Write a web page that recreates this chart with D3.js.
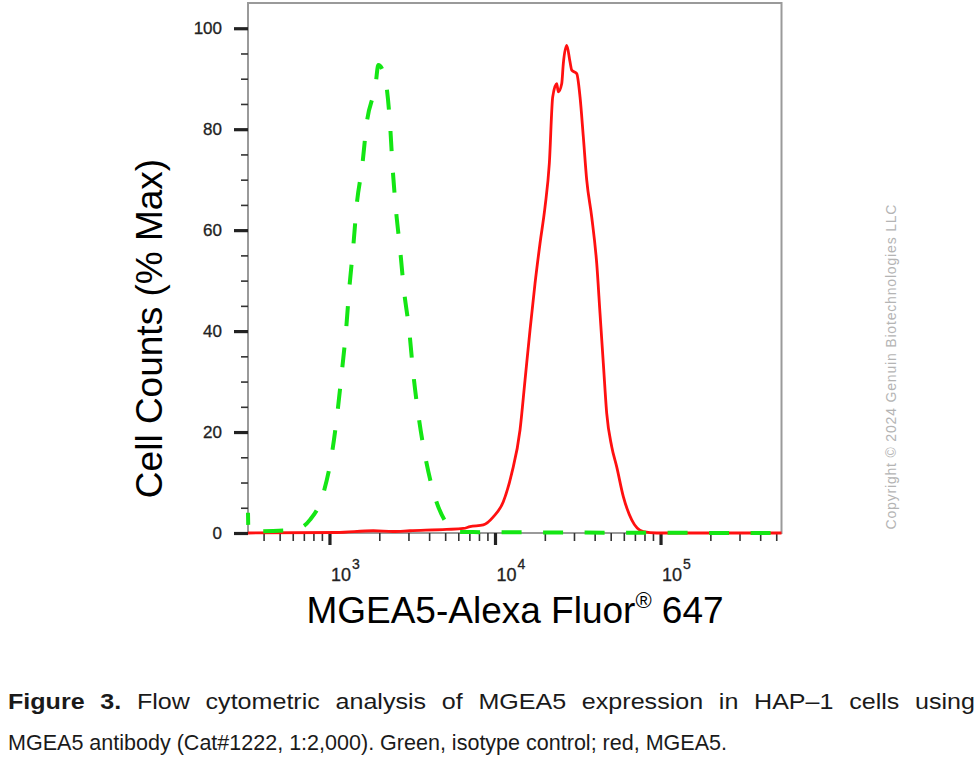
<!DOCTYPE html>
<html>
<head>
<meta charset="utf-8">
<script src="https://cdn.jsdelivr.net/npm/d3@7"></script>
<style>
  html, body { margin: 0; padding: 0; background: #fff; }
  svg { display: block; }
</style>
</head>
<body>
<div id="chart"></div>
<script>
// isotype control (green, dashed): fluorescence value, % max
const greenX = [322, 324, 457, 647, 762, 917, 1031, 1114, 1185, 1258, 1317, 1393, 1460, 1578, 1678, 1902, 1972,
                2135, 2321, 2409, 2512, 2667, 2819, 3035, 3209, 3441, 3776, 4239, 5107, 5870, 538000]
const greenY = [4, 0.3, 0.4, 0.9, 2.6, 7.8, 15.4, 23.5, 31.6, 40.0, 48.4, 56.8, 64.9, 72.8, 81.1, 89.0, 92.7,
                91.0, 81.1, 72.2, 64.6, 56.4, 48.1, 40.0, 31.6, 23.5, 15.4, 8.2, 1.9, 0.2, 0]

// MGEA5 (red, solid)
const redX = [322, 1105, 1840, 2420, 3065, 5107, 6434, 7060, 8500, 9766, 11225, 12616, 14163, 15185, 16275, 17445,
              18708, 20056, 21291, 22319, 23598, 24130, 25293, 25864, 27126, 28404, 29079, 31172, 32633, 34162,
              35822, 38397, 41165, 43095, 45125, 47305, 50722, 54367, 59602, 66988, 78742, 94842, 538000]
const redY = [0, 0.1, 0.45, 0.3, 0.45, 0.7, 0.9, 1.25, 1.6, 3.2, 6.2, 11.8, 20.4, 30.3, 40.2, 49.4,
              57.4, 64.6, 73.2, 86.4, 89.0, 87.4, 89.0, 93.0, 96.6, 93.3, 91.7, 91.0, 86.4, 78.5,
              69.9, 62.6, 53.4, 43.5, 33.6, 23.7, 17.1, 13.1, 7.2, 2.6, 0.26, 0, 0]

const yMajor = [0, 20, 40, 60, 80, 100]
const yMinor = [5, 10, 15, 25, 30, 35, 45, 50, 55, 65, 70, 75, 85, 90, 95]
const xMajor = [1e3, 1e4, 1e5]
const xMajorExp = ['3', '4', '5']
const xMinor = [400, 500, 600, 700, 800, 900, 2e3, 3e3, 4e3, 5e3, 6e3, 7e3, 8e3, 9e3,
                2e4, 3e4, 4e4, 5e4, 6e4, 7e4, 8e4, 9e4, 2e5, 3e5, 4e5, 5e5]

const captionLine1 = ['Figure', '3.', 'Flow', 'cytometric', 'analysis', 'of', 'MGEA5', 'expression', 'in', 'HAP\u20131', 'cells', 'using']
const captionLine2 = 'MGEA5 antibody (Cat#1222, 1:2,000). Green, isotype control; red, MGEA5.'

const W = 980, H = 779
const plotL = 248, plotR = 781.5, plotT = 3, plotB = 533
const font = 'Liberation Sans, Arial, Helvetica, sans-serif'

const svg = d3.select('#chart').append('svg')
    .attr('width', W)
    .attr('height', H)

const x = d3.scaleLog().domain([322, 538000]).range([plotL, plotR])
const y = d3.scaleLinear().domain([0, 105]).range([plotB, plotT])

// frame
svg.append('rect')
    .attr('x', plotL).attr('y', plotT)
    .attr('width', plotR - plotL).attr('height', plotB - plotT)
    .attr('fill', 'none')
    .attr('stroke', '#9a9a9a')
    .attr('stroke-width', 2)

// y axis
let yMin = svg.append('g')
    .attr('transform', 'translate(' + plotL + ',0)')
    .call(d3.axisLeft(y).tickValues(yMinor).tickSize(7).tickFormat(''))
let yMaj = svg.append('g')
    .attr('transform', 'translate(' + plotL + ',0)')
    .call(d3.axisLeft(y).tickValues(yMajor).tickSize(14).tickPadding(12))
yMin.select('.domain').remove()
yMaj.select('.domain').remove()
yMin.selectAll('line').attr('stroke', '#333').attr('stroke-width', 1.6)
yMaj.selectAll('line').attr('stroke', '#222').attr('stroke-width', 3.2)
yMaj.selectAll('text')
    .attr('font-family', font)
    .attr('font-size', 17)
    .attr('fill', '#222')
    .attr('stroke', '#222')
    .attr('stroke-width', 0.3)

// x axis
let xMin = svg.append('g')
    .attr('transform', 'translate(0,' + plotB + ')')
    .call(d3.axisBottom(x).tickValues(xMinor).tickSize(8).tickFormat(''))
let xMaj = svg.append('g')
    .attr('transform', 'translate(0,' + plotB + ')')
    .call(d3.axisBottom(x).tickValues(xMajor).tickSize(12).tickFormat(''))
xMin.select('.domain').remove()
xMaj.select('.domain').remove()
xMin.selectAll('line').attr('stroke', '#333').attr('stroke-width', 1.6)
xMaj.selectAll('line').attr('stroke', '#222').attr('stroke-width', 3.2)

let xLab = svg.append('g').selectAll('text')
    .data(xMajor)
    .enter()
    .append('text')
    .attr('x', function (d) { return x(d) + 1.5 })
    .attr('y', 581)
    .attr('font-family', font)
    .attr('font-size', 18)
    .attr('fill', '#222')
    .attr('stroke', '#222')
    .attr('stroke-width', 0.3)
xLab.append('tspan').text('10')
xLab.append('tspan')
    .attr('dy', -12)
    .attr('dx', 1)
    .attr('font-size', 14)
    .text(function (d, i) { return xMajorExp[i] })

// curves
const line = d3.line()
    .x(function (d) { return x(d[0]) })
    .y(function (d) { return y(d[1]) })
    .curve(d3.curveMonotoneX)

svg.append('path')
    .datum(redX.map(function (v, i) { return [v, redY[i]] }))
    .attr('d', line)
    .attr('fill', 'none')
    .attr('stroke', '#ff1010')
    .attr('stroke-width', 2.8)
    .attr('stroke-linejoin', 'round')

svg.append('path')
    .datum(greenX.map(function (v, i) { return [v, greenY[i]] }))
    .attr('d', line)
    .attr('fill', 'none')
    .attr('stroke', '#14e614')
    .attr('stroke-width', 4)
    .attr('stroke-dasharray', '20,21.5')
    .attr('stroke-dashoffset', 8)

// axis titles
svg.append('text')
    .attr('transform', 'translate(162,328.5) rotate(-90)')
    .attr('text-anchor', 'middle')
    .attr('font-family', font)
    .attr('font-size', 37)
    .attr('fill', '#000')
    .text('Cell Counts (% Max)')

let xt = svg.append('text')
    .attr('x', 515)
    .attr('y', 623)
    .attr('text-anchor', 'middle')
    .attr('font-family', font)
    .attr('font-size', 37)
    .attr('fill', '#000')
xt.append('tspan').text('MGEA5-Alexa Fluor')
xt.append('tspan').attr('font-size', 22).attr('dy', -15).text('\u00ae')
xt.append('tspan').attr('dy', 15).text(' 647')

// copyright
svg.append('text')
    .attr('transform', 'translate(896,367) rotate(-90)')
    .attr('text-anchor', 'middle')
    .attr('font-family', font)
    .attr('font-size', 14)
    .attr('fill', '#b4b4b4')
    .attr('textLength', 325)
    .attr('lengthAdjust', 'spacing')
    .text('Copyright \u00a9 2024 Genuin Biotechnologies LLC')

// caption, first line justified (reference font runs a bit wider than Liberation)
const capX0 = 8, capX1 = 975, stretch = 1.14
let words = svg.append('g').selectAll('text')
    .data(captionLine1)
    .enter()
    .append('text')
    .attr('y', 709)
    .attr('font-family', font)
    .attr('font-size', 22)
    .attr('font-weight', function (d, i) { return i < 2 ? 'bold' : 'normal' })
    .attr('fill', '#1a1a1a')
    .text(function (d) { return d })
let widths = []
words.each(function () { widths.push(this.getComputedTextLength() * stretch) })
words.attr('textLength', function (d, i) { return widths[i] })
    .attr('lengthAdjust', 'spacingAndGlyphs')
let gap = (capX1 - capX0 - d3.sum(widths)) / (widths.length - 1)
let cx = capX0
words.attr('x', function (d, i) {
    let p = cx
    cx += widths[i] + gap
    return p
})

svg.append('text')
    .attr('x', capX0)
    .attr('y', 750)
    .attr('font-family', font)
    .attr('font-size', 22)
    .attr('fill', '#1a1a1a')
    .attr('textLength', 719)
    .attr('lengthAdjust', 'spacingAndGlyphs')
    .text(captionLine2)
</script>
</body>
</html>
